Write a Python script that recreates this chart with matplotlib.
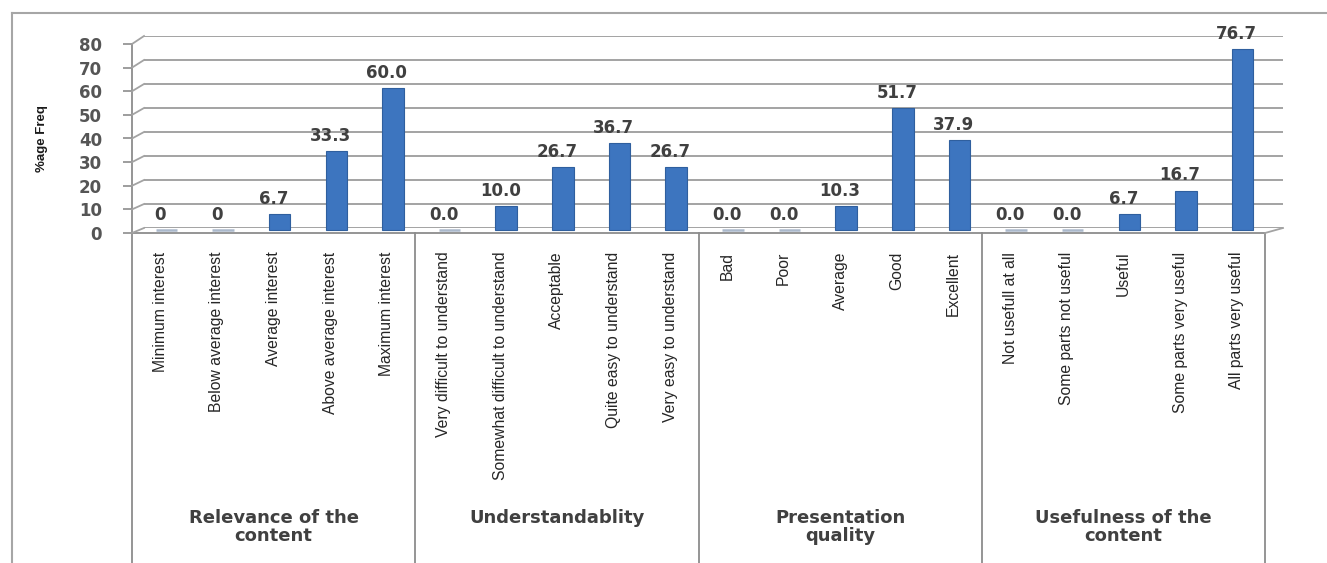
import matplotlib
matplotlib.use("Agg")
import matplotlib.pyplot as plt
from matplotlib import transforms, font_manager
from matplotlib.lines import Line2D

# ---- data -------------------------------------------------------------
groups = ["Relevance of the\ncontent", "Understandablity",
          "Presentation\nquality", "Usefulness of the\ncontent"]

categories = [
    "Minimum interest", "Below average interest", "Average interest",
    "Above average interest", "Maximum interest",
    "Very difficult to understand", "Somewhat difficult to understand",
    "Acceptable", "Quite easy to understand", "Very easy to understand",
    "Bad", "Poor", "Average", "Good", "Excellent",
    "Not usefull at all", "Some parts not useful", "Useful",
    "Some parts very useful", "All parts very useful",
]

relevance = [0, 0, 6.7, 33.3, 60.0]
understandability = [0.0, 10.0, 26.7, 36.7, 26.7]
presentation = [0.0, 0.0, 10.3, 51.7, 37.9]
usefulness = [0.0, 0.0, 6.7, 16.7, 76.7]

yticks = [0, 10, 20, 30, 40, 50, 60, 70, 80]
ylabel = "%age Freq"

values = relevance + understandability + presentation + usefulness
n_per_group = len(relevance)

# ---- figure geometry (pixels) -------------------------------------------
W, H, DPI = 1327, 563, 100
fig = plt.figure(figsize=(W / DPI, H / DPI), dpi=DPI)
fig.patch.set_facecolor("white")


def rect(x0, x1, y_bottom, y_top):
    return [x0 / W, 1 - y_bottom / H, (x1 - x0) / W, (y_bottom - y_top) / H]


# back wall with the gridlines (slight perspective offset)
ax_back = fig.add_axes(rect(144, 1283, 228, 36))
ax_back.set_xlim(0, len(values))
ax_back.set_ylim(0, 80)
ax_back.axis("off")
for t in yticks:
    ax_back.axhline(t, color="#a3a3a3", lw=1.4, zorder=0)
ax_back.set_zorder(0)

# front plane with the axes, bars and labels
ax = fig.add_axes(rect(132, 1265, 233, 44))
ax.set_zorder(1)
ax.patch.set_alpha(0)
ax.set_xlim(0, len(values))
ax.set_ylim(0, 80)

axis_grey = "#8c8c8c"
for side in ("top", "right"):
    ax.spines[side].set_visible(False)
for side in ("left", "bottom"):
    ax.spines[side].set_color(axis_grey)
    ax.spines[side].set_linewidth(1.3)

# fonts
def has_font(name):
    try:
        font_manager.findfont(font_manager.FontProperties(family=name),
                              fallback_to_default=False)
        return True
    except Exception:
        return False

if has_font("Liberation Sans Narrow"):
    cat_family, cat_size, title_size = "Liberation Sans Narrow", 13.5, 11.5
else:
    cat_family, cat_size, title_size = "Liberation Sans", 11.3, 9.5

num_font = dict(family="DejaVu Sans", weight="bold")

# y axis ticks
ax.set_yticks(yticks)
ax.set_yticklabels([str(t) for t in yticks], fontsize=12, color="#555555",
                   **num_font)
ax.tick_params(axis="y", length=6.5, width=1.2, color=axis_grey, pad=15)

# category ticks
xpos = [i + 0.5 for i in range(len(values))]
ax.set_xticks(xpos)
ax.set_xticklabels(categories, rotation=90, va="top", ha="center",
                   family=cat_family, fontsize=cat_size, color="#262626")
ax.tick_params(axis="x", length=0, pad=13.5)

# bars sit a little behind the front plane
shift = transforms.ScaledTranslation(6 / DPI, 3 / DPI, fig.dpi_scale_trans)
bar_tr = ax.transData + shift
bars = ax.bar(xpos, values, width=0.38, color="#3d75bf",
              edgecolor="#2f5f9e", linewidth=0.8, transform=bar_tr,
              zorder=3)
for b, v in zip(bars, values):
    if v == 0:
        b.set_edgecolor("#aab8cb")
        b.set_linewidth(1.8)

# value labels
for i, (x, v) in enumerate(zip(xpos, values)):
    g = i // n_per_group
    if g == 0 and v == 0:
        txt = "0"
    else:
        txt = f"{v:.1f}"
    ax.annotate(txt, (x, v), xytext=(0, 13), textcoords="offset points",
                ha="center", va="center", fontsize=12, color="#404040",
                zorder=4, **num_font)

# connectors between front ticks and the back wall
to_fig = fig.transFigure.inverted()
for t in yticks:
    p1 = to_fig.transform(ax.transData.transform((0, t)))
    p2 = to_fig.transform(ax_back.transData.transform((0, t)))
    fig.add_artist(Line2D([p1[0], p2[0]], [p1[1], p2[1]],
                          color="#a3a3a3", lw=1.3))
p1 = to_fig.transform(ax.transData.transform((len(values), 0)))
p2 = to_fig.transform(ax_back.transData.transform((len(values), 0)))
fig.add_artist(Line2D([p1[0], p2[0]], [p1[1], p2[1]], color="#a3a3a3", lw=1.3))

# group separators and group names below the category labels
sep_tr = transforms.blended_transform_factory(ax.transData, fig.transFigure)
for k in range(len(groups) + 1):
    xb = k * n_per_group
    ax.add_line(Line2D([xb, xb], [1 - 233 / H, 0], transform=sep_tr,
                       color=axis_grey, lw=1.3, clip_on=False))
for k, name in enumerate(groups):
    xc = k * n_per_group + n_per_group / 2
    ax.text(xc, 1 - 509 / H, name, transform=sep_tr, ha="center", va="top",
            fontsize=13, color="#404040", linespacing=1.0,
            **num_font)

# axis title
fig.text(42 / W, 1 - 139 / H, ylabel, rotation=90, ha="center", va="center",
         fontsize=title_size, color="#1a1a1a", family=cat_family,
         weight="bold")

# outer chart frame
fig.add_artist(Line2D([12 / W, 12 / W], [0, 1 - 13 / H], color="#a6a6a6", lw=1.5))
fig.add_artist(Line2D([12 / W, 1], [1 - 13 / H, 1 - 13 / H], color="#a6a6a6", lw=1.5))

fig.savefig("out.png", dpi=DPI, facecolor="white")
